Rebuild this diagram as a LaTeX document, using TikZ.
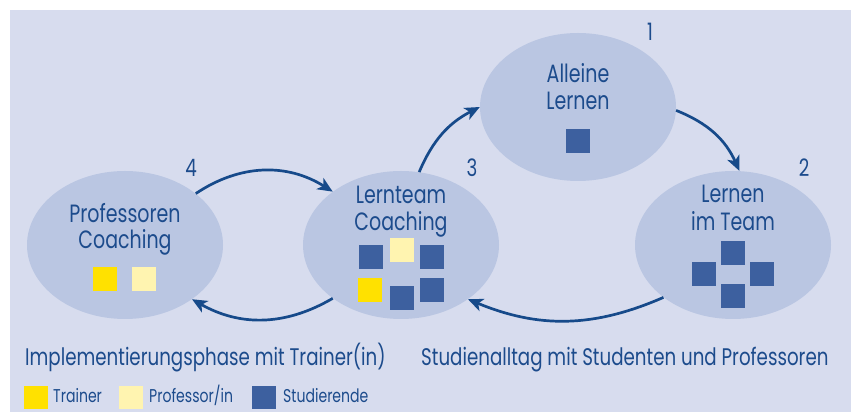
\documentclass[tikz,border=0pt]{standalone}
\usepackage{fontspec}
\setmainfont{Poppins}[FakeStretch=0.76]
\usetikzlibrary{shapes.geometric,arrows.meta}
\definecolor{bg}{HTML}{D7DCEE}
\definecolor{ell}{HTML}{BAC6E2}
\definecolor{txt}{HTML}{1C4B8C}
\definecolor{stud}{HTML}{3D609F}
\definecolor{trainer}{HTML}{FFE100}
\definecolor{profcol}{HTML}{FFF4B0}
\definecolor{arr}{HTML}{164A8A}
\begin{document}
\begin{tikzpicture}[x=1pt,y=1pt,
  bubble/.style={ellipse, fill=ell, minimum width=196pt, minimum height=148pt, inner sep=0pt},
  sq/.style={rectangle, minimum width=24pt, minimum height=24pt, inner sep=0pt},
  lbl/.style={text=txt, font=\fontsize{25}{29}\selectfont, anchor=base, inner sep=0pt},
  num/.style={text=txt, font=\fontsize{24}{28}\selectfont, anchor=base, inner sep=0pt},
  capt/.style={text=txt, font=\fontsize{24}{28}\selectfont, anchor=base west, inner sep=0pt},
  leg/.style={text=txt, font=\fontsize{18.5}{22}\selectfont, anchor=base west, inner sep=0pt},
  flow/.style={draw=arr, line width=2.7pt, -{Stealth[length=15pt,width=13pt,inset=4pt]}}
]
\useasboundingbox (0,0) rectangle (853,414);
\fill[white] (0,0) rectangle (853,414);
\fill[bg] (10,2) rectangle (851,404);

\node[bubble] (alleine) at (578,307) {};
\node[bubble] (team) at (733,169) {};
\node[bubble] (lern) at (401,169) {};
\node[bubble] (profc) at (125,169) {};

\node[lbl] (alleineA) at (578,331) {Alleine};
\node[lbl] (alleineB) at (578,304) {Lernen};
\node[lbl] (teamA) at (733,211) {Lernen};
\node[lbl] (teamB) at (733,183) {im Team};
\node[lbl] (lernA) at (401,210) {Lernteam};
\node[lbl] (lernB) at (401,183) {Coaching};
\node[lbl] (profA) at (125,191) {Professoren};
\node[lbl] (profB) at (125,165) {Coaching};

\node[num] (n1) at (650,373) {1};
\node[num] (n2) at (804,237) {2};
\node[num] (n3) at (472,237) {3};
\node[num] (n4) at (191,237) {4};

\node[sq, fill=stud] (a1) at (578,273) {};
\node[sq, fill=trainer] (p1) at (105,135) {};
\node[sq, fill=profcol] (p2) at (144,135) {};
\node[sq, fill=stud] (l1) at (371,157) {};
\node[sq, fill=profcol] (l2) at (402,164) {};
\node[sq, fill=stud] (l3) at (432,157) {};
\node[sq, fill=trainer] (l4) at (370,124) {};
\node[sq, fill=stud] (l5) at (402,116) {};
\node[sq, fill=stud] (l6) at (432,124) {};
\node[sq, fill=stud] (t1) at (733,161) {};
\node[sq, fill=stud] (t2) at (704,140) {};
\node[sq, fill=stud] (t3) at (762,140) {};
\node[sq, fill=stud] (t4) at (733,118) {};

\draw[flow] (profc.36) to[bend left=33] (lern.142);
\draw[flow] (lern.218) to[bend left=30] (profc.321);
\draw[flow] (lern.76) to[bend left=20] (alleine.180);
\draw[flow] (alleine.358) to[bend left=22] (team.85);
\draw[flow] (team.217) to[bend left=23] (lern.321);

\node[capt] (cap1) at (25,48) {Implementierungsphase mit Trainer(in)};
\node[capt] (cap2) at (421,48) {Studienalltag mit Studenten und Professoren};

\node[sq, fill=trainer, minimum height=23pt] (k1) at (36,16.5) {};
\node[sq, fill=profcol, minimum height=23pt] (k2) at (131,16.5) {};
\node[sq, fill=stud, minimum height=23pt] (k3) at (264,16.5) {};
\node[leg] (k1t) at (53,11) {Trainer};
\node[leg] (k2t) at (149,11) {Professor/in};
\node[leg] (k3t) at (283,11) {Studierende};
\end{tikzpicture}
\end{document}
